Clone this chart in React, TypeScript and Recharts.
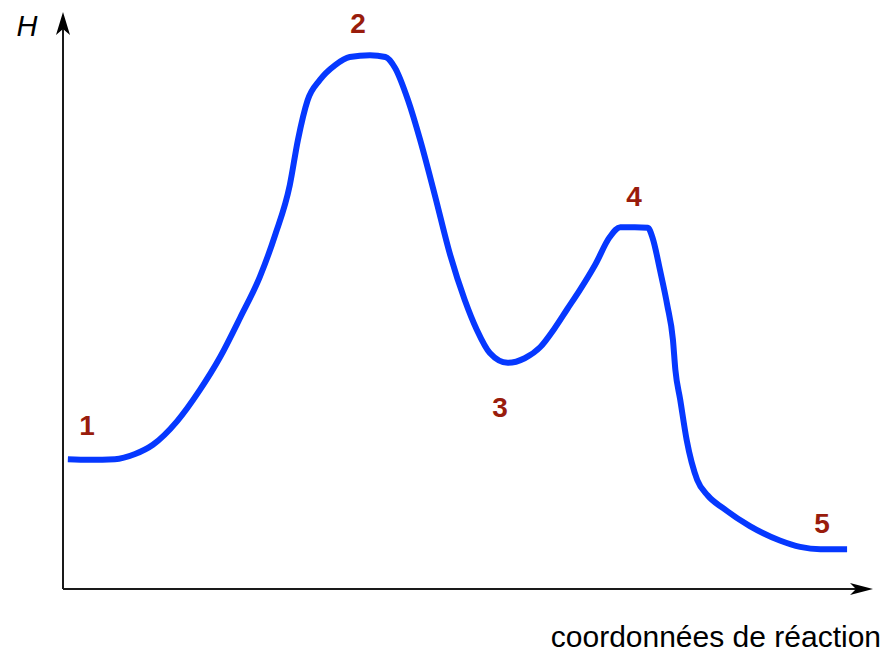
import React from "react";
import { ComposedChart, Line, Scatter, XAxis, YAxis, ReferenceLine, ReferenceDot } from "recharts";

// reaction coordinate (0-100) and enthalpy H (0-100), arbitrary units
const curveX = [0.6, 3.3, 6.4, 8.9, 11.1, 14.1, 16.9, 19.4, 21.9, 24.3, 26.2, 28.0, 29.0, 30.2, 31.7, 33.6, 35.4, 37.9, 39.8, 41.0, 42.6, 44.1, 45.9, 47.8, 49.6, 51.1, 52.7, 54.9, 57.0, 58.9, 60.7, 62.2, 63.8, 65.7, 67.5, 68.8, 70.6, 72.2, 72.8, 73.7, 74.6, 75.3, 75.6, 76.2, 77.0, 78.3, 79.6, 81.5, 84.8, 88.5, 91.0, 93.5, 96.8];
const curveH = [22.5, 22.4, 22.5, 23.4, 25.0, 29.1, 34.5, 40.2, 47.1, 54.1, 61.4, 70.0, 77.8, 84.7, 88.2, 90.8, 92.2, 92.5, 92.2, 90.3, 84.7, 77.8, 68.3, 57.9, 50.1, 44.9, 40.9, 39.2, 40.0, 41.9, 45.2, 48.4, 51.8, 56.2, 61.0, 62.7, 62.7, 62.6, 60.8, 55.3, 49.2, 43.2, 38.0, 32.8, 25.8, 18.9, 16.2, 14.0, 10.9, 8.4, 7.3, 6.9, 6.9];

const labelNames = ["1", "2", "3", "4", "5"];
const labelX = [2.96, 36.42, 53.95, 70.49, 93.7];
const labelH = [26.69, 96.36, 29.81, 66.38, 9.71];

const yTitle = "H";
const xTitle = "coordonnées de réaction";

const curveData = curveX.map((x, i) => ({ x, y: curveH[i] }));
const labelData = labelX.map((x, i) => ({ x, y: labelH[i], name: labelNames[i] }));

const FONT = "'Liberation Sans', Arial, Helvetica, sans-serif";
const AXIS = "#1a1a1a";
const RED = "#991c0c";
const BLUE = "#0638ff";

const LabelShape = (props: any) => {
  const { cx, cy, payload } = props;
  return (
    <text x={cx} y={cy} textAnchor="middle" fontFamily={FONT} fontWeight="bold" fontSize={28} fill={RED}>
      {payload.name}
    </text>
  );
};

const XArrow = (props: any) => {
  const { cx, cy } = props;
  return (
    <g>
      <polygon points={`${cx},${cy} ${cx - 23},${cy - 6} ${cx - 17},${cy} ${cx - 23},${cy + 6}`} fill="#000" />
      <text x={cx + 8} y={cy + 58} textAnchor="end" fontFamily={FONT} fontSize={30} fill="#000">
        {xTitle}
      </text>
    </g>
  );
};

const YArrow = (props: any) => {
  const { cx, cy } = props;
  return (
    <g>
      <polygon points={`${cx},${cy} ${cx - 7},${cy + 23} ${cx},${cy + 17} ${cx + 7},${cy + 23}`} fill="#000" />
      <text x={cx - 36} y={cy + 24} textAnchor="middle" fontFamily={FONT} fontStyle="italic" fontSize={29} fill="#000">
        {yTitle}
      </text>
    </g>
  );
};

export default function App() {
  return (
    <div style={{ position: "absolute", left: 0, top: 0, width: 888, height: 654, background: "#fff" }}>
      <ComposedChart width={888} height={654} margin={{ top: 12, right: 15, bottom: 65, left: 63 }}>
        <XAxis type="number" dataKey="x" domain={[0, 100]} hide allowDataOverflow />
        <YAxis type="number" dataKey="y" domain={[0, 100]} hide allowDataOverflow />
        <ReferenceLine segment={[{ x: 0, y: 0 }, { x: 98, y: 0 }]} stroke={AXIS} strokeWidth={2} ifOverflow="visible" />
        <ReferenceLine segment={[{ x: 0, y: 0 }, { x: 0, y: 98 }]} stroke={AXIS} strokeWidth={2} ifOverflow="visible" />
        <ReferenceDot x={100} y={0} r={0} shape={XArrow} ifOverflow="visible" />
        <ReferenceDot x={0} y={100} r={0} shape={YArrow} ifOverflow="visible" />
        <Line
          data={curveData}
          dataKey="y"
          type="monotone"
          stroke={BLUE}
          strokeWidth={6}
          dot={false}
          activeDot={false}
          isAnimationActive={false}
        />
        <Scatter data={labelData} dataKey="y" shape={LabelShape} isAnimationActive={false} />
      </ComposedChart>
    </div>
  );
}
